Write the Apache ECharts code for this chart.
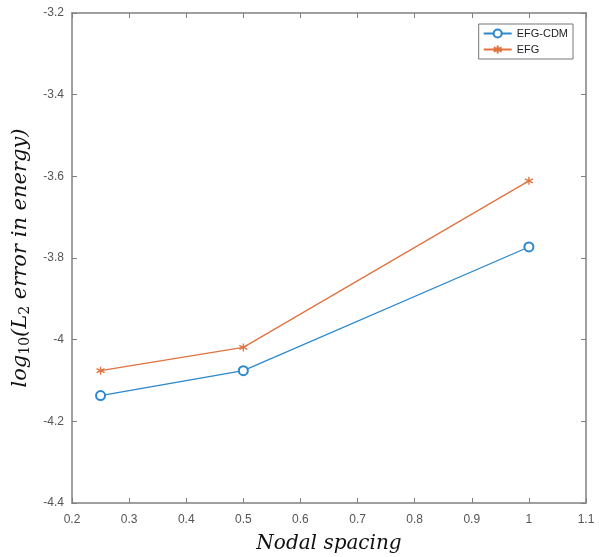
<!DOCTYPE html>
<html>
<head>
<meta charset="utf-8">
<script src="https://cdn.jsdelivr.net/npm/echarts@6/dist/echarts.min.js"></script>
<style>html,body{margin:0;padding:0;background:#fff;}#c{width:599px;height:557px;}</style>
</head>
<body>
<div id="c"></div>
<script>
var xValues = [0.25, 0.5, 1];
var efgCdm = [-4.137, -4.076, -3.773];
var efg = [-4.076, -4.019, -3.611];
var seriesNames = ['EFG-CDM', 'EFG'];
var xTitle = 'Nodal spacing';
var yTitleParts = ['log', '10', '(L', '2', ' error in energy)'];

var chart = echarts.init(document.getElementById('c'));
function pairs(xs, ys){ return xs.map(function(x,i){ return [x, ys[i]]; }); }
var axisCol = '#808080';
var labelCol = '#555';
var star = 'path://M0,-5L0,5M-4.33,-2.5L4.33,2.5M-4.33,2.5L4.33,-2.5';
var yTitle = yTitleParts[0] + '{s|' + yTitleParts[1] + '}' + yTitleParts[2] + '{s|' + yTitleParts[3] + '}' + yTitleParts[4];
chart.setOption({
  backgroundColor: '#fff',
  animation: false,
  grid: {left: 72, right: 13, top: 13, bottom: 54, outerBoundsMode: 'none', containLabel: false},
  legend: {
    right: 26, top: 24, orient: 'vertical',
    backgroundColor: '#fff', borderColor: '#777', borderWidth: 1,
    padding: [4, 5, 4, 4], itemGap: 5, itemWidth: 28, itemHeight: 10,
    textStyle: {fontFamily: 'Liberation Sans, Arial', fontSize: 11, color: '#222'},
    data: seriesNames
  },
  xAxis: [{
    type: 'value', min: 0.2, max: 1.1, interval: 0.1,
    name: xTitle, nameLocation: 'middle', nameGap: 31,
    nameTextStyle: {fontFamily: 'DejaVu Serif', fontStyle: 'italic', fontSize: 20, color: '#111'},
    axisLine: {show: true, onZero: false, lineStyle: {color: axisCol, width: 1.5}},
    axisTick: {show: true, inside: true, length: 5, lineStyle: {color: axisCol}},
    axisLabel: {color: labelCol, fontFamily: 'Liberation Sans, Arial', fontSize: 12, margin: 11,
      formatter: function(v){ return String(Math.round(v*10)/10); }},
    splitLine: {show: false}
  }, {
    type: 'value', position: 'top', min: 0.2, max: 1.1, interval: 0.1,
    axisLine: {show: true, onZero: false, lineStyle: {color: axisCol, width: 1.5}},
    axisTick: {show: true, inside: true, length: 5, lineStyle: {color: axisCol}},
    axisLabel: {show: false}, splitLine: {show: false}
  }],
  yAxis: [{
    type: 'value', min: -4.4, max: -3.2, interval: 0.2,
    name: yTitle, nameLocation: 'middle', nameGap: 37, nameRotate: 90,
    nameTextStyle: {fontFamily: 'DejaVu Serif', fontStyle: 'italic', fontSize: 21, color: '#111',
      rich: {s: {fontFamily: 'DejaVu Serif', fontStyle: 'normal', fontSize: 14, color: '#111', padding: [10, 0, 0, 0]}}},
    axisLine: {show: true, onZero: false, lineStyle: {color: axisCol, width: 1.5}},
    axisTick: {show: true, inside: true, length: 5, lineStyle: {color: axisCol}},
    axisLabel: {color: labelCol, fontFamily: 'Liberation Sans, Arial', fontSize: 12, margin: 8,
      formatter: function(v){ return String(Math.round(v*10)/10); }},
    splitLine: {show: false}
  }, {
    type: 'value', position: 'right', min: -4.4, max: -3.2, interval: 0.2,
    axisLine: {show: true, onZero: false, lineStyle: {color: axisCol, width: 1.5}},
    axisTick: {show: true, inside: true, length: 5, lineStyle: {color: axisCol}},
    axisLabel: {show: false}, splitLine: {show: false}
  }],
  series: [{
    name: seriesNames[0], type: 'line', data: pairs(xValues, efgCdm),
    symbol: 'emptyCircle', symbolSize: 9,
    lineStyle: {color: '#2b88cc', width: 1.3},
    itemStyle: {color: '#2b88cc', borderColor: '#2b88cc', borderWidth: 1.3}
  }, {
    name: seriesNames[1], type: 'line', data: pairs(xValues, efg),
    symbol: star, symbolSize: 8,
    lineStyle: {color: '#e0733f', width: 1.3},
    itemStyle: {color: '#e0733f', borderColor: '#e0733f', borderWidth: 1.3}
  }]
});
</script>
</body>
</html>
